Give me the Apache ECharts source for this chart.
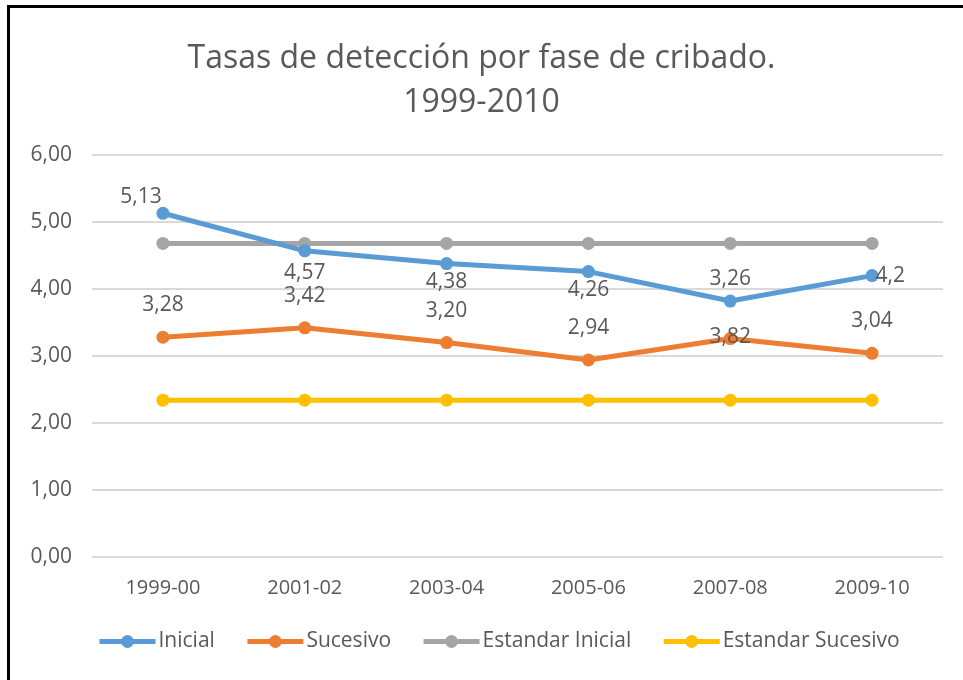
<!DOCTYPE html>
<html>
<head>
<meta charset="utf-8">
<script src="https://cdn.jsdelivr.net/npm/echarts@6/dist/echarts.min.js"></script>
<style>
  html, body { margin: 0; padding: 0; background: #fff; }
  #frame { position: absolute; left: 7px; top: 5px; width: 956px; height: 675px;
           border-top: 3px solid #000; border-left: 3px solid #000; box-sizing: border-box; }
  #chart { position: absolute; left: 0; top: 0; width: 963px; height: 680px; }
</style>
</head>
<body>
<div id="frame"></div>
<div id="chart"></div>
<script>
// datos
var periodos = ['1999-00', '2001-02', '2003-04', '2005-06', '2007-08', '2009-10'];
var inicial = [5.13, 4.57, 4.38, 4.26, 3.82, 4.2];
var sucesivo = [3.28, 3.42, 3.20, 2.94, 3.26, 3.04];
var estandarInicial = [4.68, 4.68, 4.68, 4.68, 4.68, 4.68];
var estandarSucesivo = [2.34, 2.34, 2.34, 2.34, 2.34, 2.34];
// etiquetas tal como aparecen en el grafico original
var etiquetasInicial = ['5,13', '4,57', '4,38', '4,26', '3,26', '4,2'];
var etiquetasSucesivo = ['3,28', '3,42', '3,20', '2,94', '3,82', '3,04'];

var FONT = 'Open Sans';
var TXT = '#595959';

// posicion de cada etiqueta (como en Excel)
var posInicial = [
    {position: 'top', offset: [-22, 6]},
    {position: 'bottom', offset: [0, 0]},
    {position: 'bottom', offset: [0, -4]},
    {position: 'bottom', offset: [0, -4]},
    {position: 'top', offset: [0, 0]},
    {position: 'right', offset: [-8, 0]}
];
var posSucesivo = [
    {position: 'top', offset: [0, -10]},
    {position: 'top', offset: [0, -10]},
    {position: 'top', offset: [0, -10]},
    {position: 'top', offset: [0, -10]},
    {position: 'inside', offset: [0, -2]},
    {position: 'top', offset: [0, -10]}
];

function conEtiquetas(vals, textos, pos) {
    return vals.map(function (v, i) {
        return {
            value: v,
            label: {
                show: true,
                formatter: textos[i],
                position: pos[i].position,
                offset: pos[i].offset,
                color: TXT,
                fontFamily: FONT,
                fontSize: 21
            }
        };
    });
}

function serie(nombre, color, datos) {
    return {
        name: nombre,
        type: 'line',
        data: datos,
        symbol: 'circle',
        symbolSize: 13,
        lineStyle: {width: 5, color: color},
        itemStyle: {color: color},
        emphasis: {disabled: true}
    };
}

var chart = echarts.init(document.getElementById('chart'));
var option = {
    animation: false,
    textStyle: {fontFamily: FONT, color: TXT},
    title: {
        text: 'Tasas de detección por fase de cribado.\n1999-2010',
        left: 'center',
        top: 32,
        textStyle: {fontFamily: FONT, fontSize: 32, fontWeight: 'normal', color: TXT, lineHeight: 44}
    },
    legend: {
        bottom: 23,
        left: 92,
        itemWidth: 56,
        itemHeight: 16,
        itemGap: 30,
        lineStyle: {width: 5},
        textStyle: {fontFamily: FONT, fontSize: 21, color: TXT, padding: [0, 0, 0, -2]},
        data: ['Inicial', 'Sucesivo', 'Estandar Inicial', 'Estandar Sucesivo']
    },
    grid: {left: 92, right: 20, top: 155, bottom: 123},
    xAxis: {
        type: 'category',
        data: periodos,
        boundaryGap: true,
        axisLine: {show: false},
        axisTick: {show: false},
        axisLabel: {fontFamily: FONT, fontSize: 20, color: TXT, margin: 21}
    },
    yAxis: {
        type: 'value',
        min: 0,
        max: 6,
        interval: 1,
        axisLine: {show: false},
        axisTick: {show: false},
        splitLine: {lineStyle: {color: '#d9d9d9', width: 2}},
        axisLabel: {
            fontFamily: FONT, fontSize: 21, color: TXT, margin: 20,
            formatter: function (v) { return v.toFixed(2).replace('.', ','); }
        }
    },
    series: [
        serie('Inicial', '#5B9BD5', conEtiquetas(inicial, etiquetasInicial, posInicial)),
        serie('Sucesivo', '#ED7D31', conEtiquetas(sucesivo, etiquetasSucesivo, posSucesivo)),
        serie('Estandar Inicial', '#A5A5A5', estandarInicial),
        serie('Estandar Sucesivo', '#FFC000', estandarSucesivo)
    ]
};
// orden de dibujo: estandar debajo de las series principales
option.series[0].z = 4;
option.series[1].z = 4;
option.series[2].z = 2;
option.series[3].z = 2;
chart.setOption(option);
</script>
</body>
</html>
